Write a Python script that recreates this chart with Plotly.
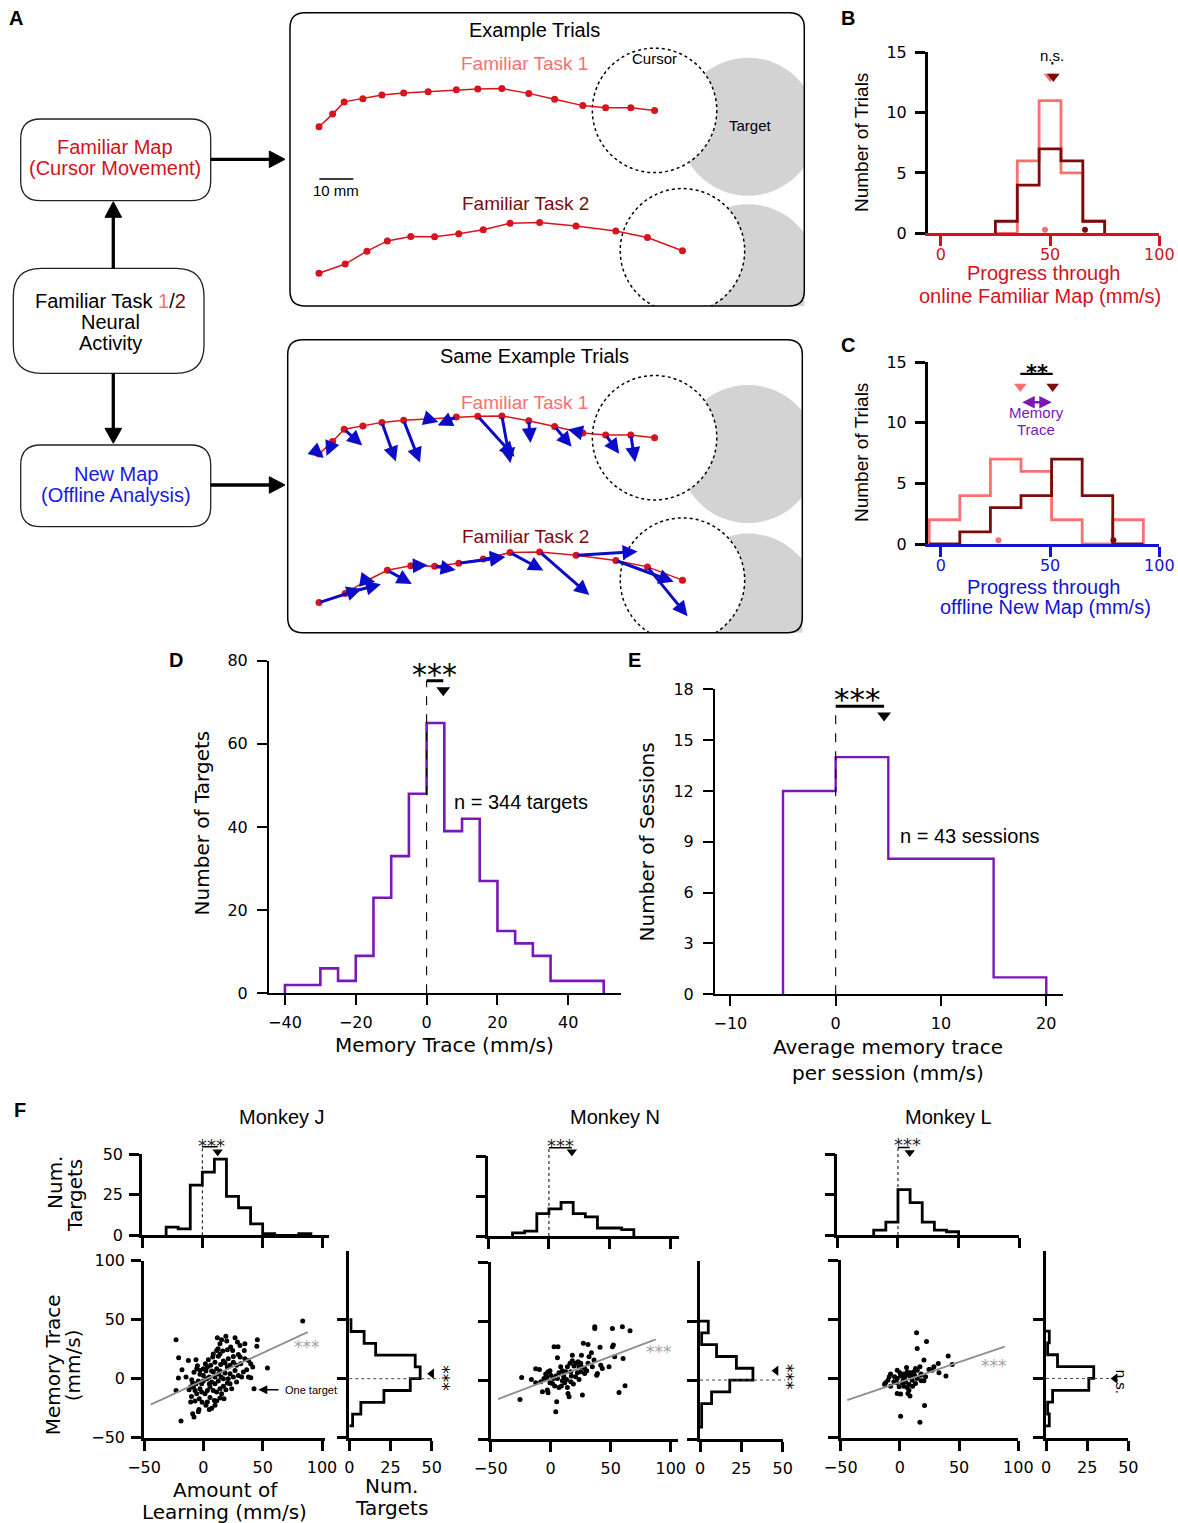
import plotly.graph_objects as go

# ============================================================ DATA
# ---- Panel A: example cursor trajectories (mm, relative to trial start)
task1_x = [0, 4.0, 7.4, 12.9, 18.5, 24.9, 32.1, 40.4, 46.7, 53.8, 61.7, 69.3, 77.6, 84.3, 91.7, 98.7]
task1_y = [0, 3.7, 7.3, 8.2, 9.3, 9.9, 10.3, 10.9, 11.1, 11.2, 9.8, 8.1, 6.2, 5.6, 5.6, 4.8]
task2_x = [0, 7.7, 14.1, 20.1, 27.0, 34.0, 41.1, 48.3, 56.2, 64.9, 75.6, 87.3, 96.6, 106.9]
task2_y = [0, 2.7, 6.5, 9.5, 10.8, 10.7, 11.6, 12.8, 14.7, 14.9, 13.9, 12.4, 10.5, 6.6]
# New-map (offline) cursor velocity at each sample (mm)
task1_u = [1.4, -1.8, 5.3, -0.8, 4.1, 4.8, 3.0, -5.5, 10.8, 2.5, 0.5, 5.0, -4.4, 4.0, 1.3]
task1_v = [-1.2, -4.3, -4.8, -0.6, -11.5, -12.4, -0.9, -2.5, -11.9, -13.9, -6.6, -6.0, 1.0, -5.5, -8.0]
task2_u = [12.5, 10.5, 2.4, 7.2, 5.0, 6.2, 13.6, 6.4, 9.8, 14.6, 18.1, 17.0, 11.8]
task2_v = [4.0, 2.7, -0.4, -4.0, 0.2, -1.1, 1.7, 0.7, -5.3, -12.7, 1.1, -6.3, -14.5]
target_x = 126.2
target_r = 20.3
cursor_r = 18.3
scalebar_mm = [0.1, 10.1]

# ---- Panel B: online familiar map progress
b_edges = [25, 35, 45, 55, 65, 75]
b_task1 = [0, 6, 11, 5, 1]
b_task2 = [1, 4, 7, 6, 1]
b_means = [50.0, 51.5]
b_examples = [47.7, 66.0]

# ---- Panel C: offline new map progress
c_edges = [-5.3, 8.7, 22.7, 36.7, 50.7, 64.7, 78.7, 92.7]
c_task1 = [2, 4, 7, 6, 2, 0, 2]
c_task2 = [0, 1, 3, 4, 7, 4, 0]
c_means = [36.4, 51.2]
c_examples = [26.4, 79.0]

# ---- Panel D: memory trace per target
d_edges = [-40, -35, -30, -25, -20, -15, -10, -5, 0, 5, 10, 15, 20, 25, 30, 35, 40, 45, 50]
d_counts = [2, 2, 6, 3, 9, 23, 33, 48, 65, 39, 42, 27, 15, 12, 9, 3, 3, 3]
d_mean = 4.7

# ---- Panel E: average memory trace per session
e_edges = [-5, 0, 5, 10, 15, 20]
e_counts = [12, 14, 8, 8, 1]
e_mean = 4.6

# ---- Panel F: amount of learning vs memory trace
J_top_edges = [-30, -20, -10, 0, 10, 20, 30, 40, 50, 60, 70, 80, 90]
J_top_counts = [5, 4, 31, 39, 47, 24, 17, 7, 1, 0, 0, 1]
J_side_edges = [-40, -30, -20, -10, 0, 10, 20, 30, 40, 50]
J_side_counts = [2, 7, 21, 37, 43, 40, 16, 9, 1]
J_means = [12.7, 4.2]
J_fit_x = [-44.4, 87.9]
J_fit_y = [-22.0, 39.5]
J_pts = [(-23, 33), (-20.8, 17.8), (-18, 7.6), (-21, 0.6), (-23, -10), (-18.8, -35.9), (-14.6, 1.4),
         (-10.7, -19.8), (-9, -29.7), (-7.9, -32.5), (-4.2, -28), (-3.7, -26), (-6.2, 16), (-5, 11),
         (-7.9, 5.4), (-9.8, -0.8), (-8.4, -7), (-10, -15), (-1, -20), (2.2, -22.6), (5, -26), (7, -25),
         (9.3, -18.4), (11.2, -19), (14, -16.4), (17.4, -17), (22.5, -4.2), (23.9, -8.5), (1.7, 12.7),
         (3.4, 9.9), (0, 8.5), (5, 1.4), (7, 6.5), (9.8, 14), (11.2, 24), (12.4, 25.4), (14, 21),
         (11.8, 34.7), (15.4, 33), (19, 35.9), (19.7, 31.9), (26.7, 34.7), (28.7, 31), (24.7, 24),
         (30.9, 28.2), (35, 29.7), (29.5, 20.6), (25.3, 18.9), (21, 17), (16.9, 15), (20.2, 9.9),
         (18.3, 4.8), (14, 6.5), (16.9, 0), (22.5, 4.2), (26.7, 7), (31.5, 12.7), (35, 17), (38, 15.5),
         (39.9, 12.7), (41.6, 9.9), (36.5, 7.6), (38, 1.4), (40, 0.8), (32.3, 1.4), (28, -2.8),
         (45.5, 33), (45, 27.4), (54, 9), (42.7, -8.5), (83.7, 48.9), (-12.6, 15.5), (-5.6, 8.5),
         (-2.8, 3.7), (-4.2, -2), (-1.4, -4.2), (-2.8, -8.5), (-7, -10), (-5.6, -12.7), (-1.4, -11.3),
         (1.4, -12.7), (3.4, -10), (5.6, -7), (8.4, -10), (11.2, -11.3), (14, -8.5), (16.9, -6.5),
         (19, -9.3), (20.2, -3.7), (0, -2), (2.8, 0), (7, -2.8), (9.8, -4.2), (12.6, -2), (15, 1.4),
         (8.4, 5.6), (11.2, 8.5), (14.6, 12.1), (18.3, 13.3), (22.5, 11.3), (25.3, 14), (28, 11.3),
         (6.2, 11.3), (4.2, 16), (7.9, 18.4), (12.6, 19), (16.3, 23.4), (20.2, 24.6), (23, 26.8),
         (8.4, 21), (14, 29.7), (0, 2.8), (2.2, 6.5), (-10.7, -7), (-12, -9.3), (-3.4, -17), (-7, -19),
         (5.6, -16), (9.8, -22.6), (3.4, -19.8), (15.4, -12.7), (25.3, 1.4), (33.7, 5.6), (29.5, 2.8),
         (-6.2, -4.2), (-9, -3.7), (9.8, 1.4), (13, 4.2), (-2.8, 7), (5, -4.2), (21, 0), (31, 18.4),
         (34.5, 24)]
J_one_target = (42.7, -8.5)

N_top_edges = [-30, -20, -10, 0, 10, 20, 30, 40, 50, 60, 70]
N_top_counts = [2, 3, 14, 17, 21, 14, 12, 5, 5, 4]
N_side_edges = [-40, -30, -20, -10, 0, 10, 20, 30, 40, 50]
N_side_counts = [1, 1, 7, 18, 32, 22, 10, 1, 5]
N_means = [18.9, 7.9]
N_fit_x = [-43.9, 87.5]
N_fit_y = [-16.1, 34.6]
N_pts = [(-24.2, 2.3), (-25.6, -16.4), (-16.1, 0.6), (-12.5, 9.6), (-9.4, 9), (-12.5, -2.3), (-8.3, -1.4),
         (-4.2, 5.1), (-3.3, 2.3), (-2.2, 7.1), (-0.6, 7.9), (-2.8, -8.5), (-2.2, -10.8), (1.4, -2.8),
         (2.2, 1.4), (4.2, 3.4), (5.6, 1.4), (6.9, -6.2), (8.9, -5.1), (9.7, -0.6), (11.1, 2.3),
         (12.5, 7.1), (13.9, 11.3), (16.1, 14.2), (18, 16.4), (19.4, 11.9), (20.8, 14.2), (22.8, 15.6),
         (23.6, 11.3), (17.2, 3.4), (16.7, -1.4), (18.9, -3.4), (13.9, -6.2), (14.4, -11.3), (15.3, -14.2),
         (5, -18.4), (4.2, -26.9), (2.8, 28.3), (6.1, 28.3), (5.6, 19), (18, 21.2), (25.6, 21.2),
         (27.2, 31.2), (31.1, 30.3), (31.9, 19.8), (28.3, 9.9), (30, 7.9), (31.1, 14.2), (25, 7.1),
         (26.4, -12.7), (23.6, 0.6), (33.9, 23.2), (36.1, 17), (36.7, 45.3), (36.7, 43.9), (41.1, 27.8),
         (38.9, 5.7), (41.7, 12.7), (43, 9.9), (48.6, 11.3), (51.4, 43.9), (51.4, 28.3), (52.2, 29.7),
         (53.3, 19.8), (59.7, 45.3), (60.3, 18.4), (66.1, 41.9), (61.9, -4.8), (56.9, -10.5), (38.3, 4.2),
         (9.7, 7.9), (-0.6, -2.3), (-5.6, 1.4), (-6.9, -9.9), (6.9, 6.2), (10.6, 4.2), (11.7, -2.3),
         (20.8, 2.8), (22.2, 6.2), (25.6, 11.3), (28.3, 5.7), (8.3, 11.3), (3.3, -5.1), (16.7, 7.1),
         (13.3, 0.6), (25, 14.2), (34.7, 11.3), (0, 4.2)]

L_top_edges = [-20, -10, 0, 10, 20, 30, 40, 50]
L_top_counts = [3, 8, 28, 20, 8, 3, 2]
L_side_edges = [-40, -30, -20, -10, 0, 10, 20, 30, 40]
L_side_counts = [2, 1, 4, 26, 29, 7, 1, 2]
L_means = [9.7, 0.0]
L_fit_x = [-44.5, 88.5]
L_fit_y = [-18.3, 26.8]
L_pts = [(14.1, 38.6), (22.5, 31.3), (14.6, 25.4), (20.3, 15.5), (40.8, 18.9), (33, 4.8), (38.9, 2),
         (44.2, 11.8), (28.7, 9.9), (32.4, 12.7), (24.5, 7.6), (27.3, 7), (20.3, -2), (18, 3.7),
         (14.6, 7), (11.8, 5.6), (9, 1.4), (5.6, 9.3), (6.2, 5.6), (3.4, 3.7), (0.6, 2), (-2.3, 0),
         (-4.5, 1.4), (-7.9, 3.7), (-10.1, -1.4), (-13, -4.8), (-7.9, -6.5), (-2.8, -3.7), (-0.6, -7),
         (2, -3.7), (4.8, -2.8), (7.6, -4.8), (10.4, -1.4), (13.2, -4.2), (14.6, 0), (-2.3, -12.7),
         (0.6, -13.2), (6.8, -12.7), (8.5, -14.9), (20.8, -22.8), (0.6, -31.8), (16.9, -36.9),
         (16.9, 9.9), (13.2, 8.5), (9, 4.8), (3.9, 0.8), (-5.1, -2.8), (-9, 1.4), (3.4, -6.5),
         (6.2, -7.6), (10.7, -6.5), (17.5, 2.8), (2.8, -1.4), (0, 4.8), (-2.3, 7), (21.7, 1.4),
         (25.4, 7.6), (18, -2), (-12.1, -3.7), (7.6, -9.9), (12.4, 2.8), (5.6, 2.8)]

# ============================================================ STYLE / HELPERS
W, H = 1178, 1523
ARIAL = "Liberation Sans, Arial, sans-serif"
DEJAVU = "DejaVu Sans, sans-serif"
RED = "#D2121E"
SALMON = "#F97070"
DARK = "#7B0C0C"
BLUE = "#1414CF"
ARROW_BLUE = "#0C0CC8"
PURPLE = "#7A17B6"
TGRAY = "#D3D3D3"
FITGRAY = "#8E8E8E"
STARGRAY = "#A3A3A3"


def X(p):
    return p / W


def Y(p):
    return 1 - p / H


fig = go.Figure()
axes_layout = {}
shapes = []
anns = []


def make_axes(n, xpx, ypx, xr, yr, xtick=None, ytick=None, xlab=True, ylab=True,
              xcol="black", visible=True, lw=2.5, tsize=16, ticklen=10, xstand=0, ystand=0):
    sx = "" if n == 1 else str(n)
    common = dict(showgrid=False, zeroline=False, showline=True, ticks="outside",
                  ticklen=ticklen, tickwidth=lw, linewidth=lw, fixedrange=True,
                  visible=visible, layer="above traces", automargin=False)
    axes_layout["xaxis" + sx] = dict(domain=[X(xpx[0]), X(xpx[1])], range=xr, anchor="y" + sx,
                                     linecolor=xcol, tickcolor=xcol, tickvals=xtick,
                                     showticklabels=xlab, ticklabelstandoff=xstand,
                                     tickfont=dict(family=DEJAVU, size=tsize, color=xcol), **common)
    axes_layout["yaxis" + sx] = dict(domain=[Y(ypx[0]), Y(ypx[1])], range=yr, anchor="x" + sx,
                                     linecolor="black", tickcolor="black", tickvals=ytick,
                                     showticklabels=ylab, ticklabelstandoff=ystand,
                                     tickfont=dict(family=DEJAVU, size=tsize, color="black"), **common)
    return ("x" + sx, "y" + sx)


def line(ax, xs, ys, color, width, dash=None):
    fig.add_trace(go.Scatter(x=xs, y=ys, xaxis=ax[0], yaxis=ax[1], mode="lines",
                             line=dict(color=color, width=width, dash=dash), hoverinfo="skip"))


def marks(ax, xs, ys, color, size, symbol="circle"):
    fig.add_trace(go.Scatter(x=xs, y=ys, xaxis=ax[0], yaxis=ax[1], mode="markers",
                             marker=dict(color=color, size=size, symbol=symbol, line=dict(width=0)),
                             cliponaxis=False, hoverinfo="skip"))


def step(edges, counts):
    xs, ys = [edges[0]], [0]
    for i, c in enumerate(counts):
        xs += [edges[i], edges[i + 1]]
        ys += [c, c]
    xs.append(edges[-1])
    ys.append(0)
    return xs, ys


def txt(x, y, s, size=20, color="black", family=ARIAL, xanchor="center", yanchor="middle",
        angle=0, ax=None):
    if ax is None:
        d = dict(x=X(x), y=Y(y), xref="paper", yref="paper")
    else:
        d = dict(x=x, y=y, xref=ax[0], yref=ax[1])
    d.update(text=s, showarrow=False, font=dict(size=size, color=color, family=family),
             xanchor=xanchor, yanchor=yanchor, textangle=angle)
    anns.append(d)


def arrow(ax, x0, y0, x1, y1, color, width, head=2, size=1.0, both=False):
    anns.append(dict(x=x1, y=y1, ax=x0, ay=y0, xref=ax[0], yref=ax[1], axref=ax[0], ayref=ax[1],
                     text="", showarrow=True, arrowhead=head, arrowsize=size, arrowwidth=width,
                     arrowcolor=color, standoff=0, startstandoff=0,
                     arrowside="end+start" if both else "end", startarrowhead=head,
                     startarrowsize=size))


def pline(x0, y0, x1, y1, w=3.3, color="black", dash=None):
    shapes.append(dict(type="line", xref="paper", yref="paper", x0=X(x0), y0=Y(y0), x1=X(x1),
                       y1=Y(y1), line=dict(color=color, width=w, dash=dash)))


def ppoly(pts, color="black"):
    path = "M " + " L ".join(f"{X(a):.5f},{Y(b):.5f}" for a, b in pts) + " Z"
    shapes.append(dict(type="path", xref="paper", yref="paper", path=path, fillcolor=color,
                       line=dict(color=color, width=1)))


def rrect(x0, y0, x1, y1, r, w=1.3, color="#222222"):
    p = (f"M {X(x0 + r)},{Y(y0)} L {X(x1 - r)},{Y(y0)} Q {X(x1)},{Y(y0)} {X(x1)},{Y(y0 + r)} "
         f"L {X(x1)},{Y(y1 - r)} Q {X(x1)},{Y(y1)} {X(x1 - r)},{Y(y1)} "
         f"L {X(x0 + r)},{Y(y1)} Q {X(x0)},{Y(y1)} {X(x0)},{Y(y1 - r)} "
         f"L {X(x0)},{Y(y0 + r)} Q {X(x0)},{Y(y0)} {X(x0 + r)},{Y(y0)} Z")
    shapes.append(dict(type="path", xref="paper", yref="paper", path=p,
                       line=dict(color=color, width=w), layer="above"))


# ============================================================ PANEL A (left flow chart)
rrect(20.7, 119, 210.7, 200.7, 20)
rrect(13.3, 268.3, 204, 373.3, 28)
rrect(20.7, 445, 210.7, 526.7, 20)
txt(115, 147.3, "Familiar Map", color=RED)
txt(115, 168.3, "(Cursor Movement)", color=RED)
txt(110.5, 300.7, f"Familiar Task <span style='color:{SALMON}'>1</span>/<span style='color:{DARK}'>2</span>")
txt(110.5, 321.7, "Neural")
txt(110.5, 343.3, "Activity")
txt(115.7, 474, "New Map", color="#1A1AE0")
txt(115.7, 495, "(Offline Analysis)", color="#1A1AE0")
# arrows
pline(113.3, 268.3, 113.3, 214)
ppoly([(113.3, 201.7), (105, 217.3), (121.6, 217.3)])
pline(113.3, 373.3, 113.3, 431)
ppoly([(113.3, 443.3), (105, 428.3), (121.6, 428.3)])
pline(210.7, 159.3, 272, 159.3)
ppoly([(285, 159.3), (269.3, 151), (269.3, 167.6)])
pline(210.7, 485, 272, 485)
ppoly([(285, 485), (269.3, 476.7), (269.3, 493.3)])

# ============================================================ PANEL A (trajectory boxes)
axA1 = make_axes(1, (290, 804.3), (306, 12.7), [-8.53, 142.74], [-52.74, 33.53], visible=False)
axA2 = make_axes(2, (287.7, 802.3), (632.7, 339.7), [-9.21, 142.15], [-52.56, 33.62], visible=False)
panels = [(axA1, -43.1, False), (axA2, -43.7, True)]
for ax, off, with_arrows in panels:
    for ty in (0, off):
        shapes.append(dict(type="circle", xref=ax[0], yref=ax[1], layer="below",
                           x0=target_x - target_r, x1=target_x + target_r,
                           y0=ty - target_r, y1=ty + target_r,
                           fillcolor=TGRAY, line=dict(width=0)))
    for cx, cy in ((task1_x[-1], task1_y[-1]), (task2_x[-1], task2_y[-1] + off)):
        shapes.append(dict(type="circle", xref=ax[0], yref=ax[1], layer="below",
                           x0=cx - cursor_r, x1=cx + cursor_r, y0=cy - cursor_r, y1=cy + cursor_r,
                           fillcolor="white", line=dict(color="black", width=1.5, dash="dot")))
    t2y = [v + off for v in task2_y]
    for xs, ys in ((task1_x, task1_y), (task2_x, t2y)):
        fig.add_trace(go.Scatter(x=xs, y=ys, xaxis=ax[0], yaxis=ax[1], mode="lines+markers",
                                 line=dict(color="#D7141E", width=1.5),
                                 marker=dict(color="#D7141E", size=7), hoverinfo="skip"))
    if with_arrows:
        for i in range(len(task1_u)):
            arrow(ax, task1_x[i], task1_y[i], task1_x[i] + task1_u[i], task1_y[i] + task1_v[i],
                  ARROW_BLUE, 3)
        for i in range(len(task2_u)):
            arrow(ax, task2_x[i], t2y[i], task2_x[i] + task2_u[i], t2y[i] + task2_v[i],
                  ARROW_BLUE, 3)
line(axA1, scalebar_mm, [-15.4, -15.4], "black", 1.5)

rrect(290, 12.7, 804.3, 306, 15, w=1.5, color="black")
rrect(287.7, 339.7, 802.3, 632.7, 15, w=1.5, color="black")
txt(534.3, 30, "Example Trials")
txt(524.7, 63.3, "Familiar Task 1", size=19, color=SALMON)
txt(654.3, 59, "Cursor", size=15)
txt(750.7, 125.7, "Target", size=15)
txt(335.7, 190.7, "10 mm", size=15)
txt(525, 204, "Familiar Task 2", size=19, color=DARK)
txt(534.3, 356, "Same Example Trials")
txt(524.3, 402.7, "Familiar Task 1", size=19, color=SALMON)
txt(525, 536, "Familiar Task 2", size=19, color=DARK)

# ============================================================ PANEL B
axB = make_axes(3, (927.7, 1159.3), (233.3, 52.3), [-6, 100], [0, 15], xtick=[0, 50, 100],
                ytick=[0, 5, 10, 15], xcol=RED, tsize=16, xstand=-5, ystand=5)
xs, ys = step(b_edges, b_task1)
line(axB, xs, ys, SALMON, 2.8)
xs, ys = step(b_edges, b_task2)
line(axB, xs, ys, DARK, 2.8)
marks(axB, [b_means[0]], [13], SALMON, 11, "triangle-down")
marks(axB, [b_means[1]], [13], DARK, 11, "triangle-down")
marks(axB, [b_examples[0]], [0.3], SALMON, 6)
marks(axB, [b_examples[1]], [0.3], DARK, 6)
line(axB, [b_means[0] + 0.6, b_means[1]], [14.1, 14.1], "black", 2.5)
txt(51, 14.75, "n.s.", size=15, ax=axB)
txt(861.7, 142.3, "Number of Trials", size=19, angle=-90)
txt(1043.3, 273.3, "Progress through", color=RED)
txt(1040, 295.7, "online Familiar Map (mm/s)", color=RED)

# ============================================================ PANEL C
axC = make_axes(4, (927.7, 1159.3), (544, 362.3), [-6, 100], [0, 15], xtick=[0, 50, 100],
                ytick=[0, 5, 10, 15], xcol=BLUE, tsize=16, xstand=-5, ystand=5)
xs, ys = step(c_edges, c_task1)
line(axC, xs, ys, SALMON, 2.8)
xs, ys = step(c_edges, c_task2)
line(axC, xs, ys, DARK, 2.8)
marks(axC, [c_means[0]], [13], SALMON, 11, "triangle-down")
marks(axC, [c_means[1]], [13], DARK, 11, "triangle-down")
marks(axC, [c_examples[0]], [0.3], SALMON, 6)
marks(axC, [c_examples[1]], [0.3], DARK, 6)
line(axC, c_means, [14.05, 14.05], "black", 2.2)
txt(sum(c_means) / 2, 14.15, "<b>**</b>", size=21, family=DEJAVU, ax=axC)
arrow(axC, c_means[0] + 0.2, 11.7, c_means[1] - 0.4, 11.7, PURPLE, 2.5, head=2, size=1.0, both=True)
txt(43.6, 10.84, "Memory", size=15, color=PURPLE, ax=axC)
txt(43.6, 9.47, "Trace", size=15, color=PURPLE, ax=axC)
txt(861.7, 452.3, "Number of Trials", size=19, angle=-90)
txt(1043.3, 586.7, "Progress through", color=BLUE)
txt(1045, 606.7, "offline New Map (mm/s)", color=BLUE)

# ============================================================ PANEL D
axD = make_axes(5, (269, 620.7), (993.3, 660.7), [-44.5, 54.8], [0, 80],
                xtick=[-40, -20, 0, 20, 40], ytick=[0, 20, 40, 60, 80], lw=2, xstand=3, ystand=6)
xs, ys = step(d_edges, d_counts)
line(axD, xs, ys, PURPLE, 2.6)
line(axD, [0, 0], [0, 75.2], "black", 1.1, "dash")
line(axD, [0, d_mean], [75.2, 75.2], "black", 3)
marks(axD, [d_mean], [72.9], "black", 12, "triangle-down")
txt(2.3, 76.6, "***", size=30, family=DEJAVU, ax=axD)
txt(451.7, 802.3, "n = 344 targets", xanchor="left")
txt(201.7, 822.7, "Number of Targets", family=DEJAVU, angle=-90)
txt(444, 1045, "Memory Trace (mm/s)", family=DEJAVU)

# ============================================================ PANEL E
axE = make_axes(6, (715, 1062.7), (994.3, 689.3), [-11.46, 21.56], [0, 18],
                xtick=[-10, 0, 10, 20], ytick=[0, 3, 6, 9, 12, 15, 18], lw=2, xstand=3, ystand=6)
xs, ys = step(e_edges, e_counts)
line(axE, xs, ys, PURPLE, 2.4)
line(axE, [0, 0], [0, 17.0], "black", 1.1, "dash")
line(axE, [0, e_mean], [17.0, 17.0], "black", 3)
marks(axE, [e_mean], [16.45], "black", 12, "triangle-down")
txt(2.1, 17.4, "***", size=31, family=DEJAVU, ax=axE)
txt(898.3, 835.7, "n = 43 sessions", xanchor="left")
txt(646.7, 841.7, "Number of Sessions", family=DEJAVU, angle=-90)
txt(887.7, 1047.3, "Average memory trace", family=DEJAVU)
txt(888.3, 1072.7, "per session (mm/s)", family=DEJAVU)

# ============================================================ PANEL F
monkeys = [
    dict(name="Monkey J", title_x=282, pts=J_pts, te=J_top_edges, tc=J_top_counts, se=J_side_edges,
         sc=J_side_counts, means=J_means, fx=J_fit_x, fy=J_fit_y,
         top_x=(142, 329), top_y=(1235.3, 1154.3), top_xr=[-50, 105],
         sc_x=(144, 325), sc_y=(1437.7, 1260.7), sc_xr=[-50, 102.5],
         side_x=(349.3, 431.7), side_y=(1437.7, 1250.7), side_yr=[-50, 108.5],
         tri_y=51.6, bar_y=54.7, star=(7.2, 55.2), side_tri=(50, 4.2), side_dot=55,
         side_txt=(443, 1378.3, "***"), gstar=(87, 26.6), labels=True),
    dict(name="Monkey N", title_x=615, pts=N_pts, te=N_top_edges, tc=N_top_counts, se=N_side_edges,
         sc=N_side_counts, means=N_means, fx=N_fit_x, fy=N_fit_y,
         top_x=(488.3, 679.3), top_y=(1236, 1156), top_xr=[-50, 107.5],
         sc_x=(490.7, 678.3), sc_y=(1439, 1262.3), sc_xr=[-50, 106.3],
         side_x=(700, 782.7), side_y=(1439, 1261), side_yr=[-50, 101],
         tri_y=52.7, bar_y=55.2, star=(9.6, 56.8), side_tri=(46, 7.9), side_dot=51.4,
         side_txt=(787, 1377, "***"), gstar=(90.3, 23.7), labels=False),
    dict(name="Monkey L", title_x=948, pts=L_pts, te=L_top_edges, tc=L_top_counts, se=L_side_edges,
         sc=L_side_counts, means=L_means, fx=L_fit_x, fy=L_fit_y,
         top_x=(837.3, 1019.3), top_y=(1235, 1154), top_xr=[-50, 100],
         sc_x=(840.7, 1018.3), sc_y=(1437.7, 1260), sc_xr=[-50, 100],
         side_x=(1046, 1128.3), side_y=(1437.7, 1250.7), side_yr=[-50, 107.8],
         tri_y=51, bar_y=54, star=(8, 55.6), side_tri=(42, 0), side_dot=42,
         side_txt=(1121, 1381.7, "n.s."), gstar=(79.4, 10.9), labels=False),
]

n_ax = 7
for m in monkeys:
    lab = m["labels"]
    top = make_axes(n_ax, m["top_x"], m["top_y"], m["top_xr"], [0, 50], xtick=[-50, 0, 50, 100],
                    ytick=[0, 25, 50], xlab=False, ylab=lab, lw=2.6, ystand=3)
    sca = make_axes(n_ax + 1, m["sc_x"], m["sc_y"], m["sc_xr"], [-50, 100],
                    xtick=[-50, 0, 50, 100], ytick=[-50, 0, 50, 100], ylab=lab, lw=2.6,
                    xstand=3, ystand=3)
    side = make_axes(n_ax + 2, m["side_x"], m["side_y"], [0, 50], m["side_yr"],
                     xtick=[0, 25, 50], ytick=[-50, 0, 50], ylab=False, lw=2.6, xstand=3)
    # overlay axes (same scale, larger extent) for annotation marks above the histograms
    ty_scale = (m["top_y"][0] - m["top_y"][1]) / 50.0
    ovt = make_axes(n_ax + 3, m["top_x"], (m["top_y"][0], 1118), m["top_xr"],
                    [0, (m["top_y"][0] - 1118) / ty_scale], visible=False)
    sx_scale = (m["side_x"][1] - m["side_x"][0]) / 50.0
    ovs = make_axes(n_ax + 4, (m["side_x"][0], m["side_x"][0] + 120), m["side_y"],
                    [0, 120 / sx_scale], m["side_yr"], visible=False)
    n_ax += 5

    xs, ys = step(m["te"], m["tc"])
    line(top, xs, ys, "black", 2.8)
    line(ovt, [0, 0], [0, m["bar_y"]], "black", 1, "dot")
    line(ovt, [0, m["means"][0]], [m["bar_y"], m["bar_y"]], "black", 1.5)
    marks(ovt, [m["means"][0]], [m["tri_y"]], "black", 9, "triangle-down")
    txt(m["star"][0], m["star"][1], "***", size=18, color="#222222", family=DEJAVU, ax=ovt)

    marks(sca, [p[0] for p in m["pts"]], [p[1] for p in m["pts"]], "black", 5)
    line(sca, m["fx"], m["fy"], FITGRAY, 1.8)
    txt(m["gstar"][0], m["gstar"][1], "***", size=17, color=STARGRAY, family=DEJAVU, ax=sca)

    ys, xs = step(m["se"], m["sc"])
    line(side, xs, ys, "black", 2.8)
    line(ovs, [0, m["side_dot"]], [0, 0], "#444444", 1, "dot")
    marks(ovs, [m["side_tri"][0]], [m["side_tri"][1]], "black", 9, "triangle-left")
    st = m["side_txt"]
    txt(st[0], st[1], st[2], size=17 if st[2] == "***" else 15,
        family=DEJAVU if st[2] == "***" else ARIAL, angle=90)

    txt(m["title_x"], 1117, m["name"])
    if m["name"] == "Monkey J":
        arrow(sca, 64.6, J_one_target[1] - 0.8, J_one_target[0] + 3.6, J_one_target[1] - 0.8,
              "black", 1.5, head=2, size=1.2)
        txt(67.1, J_one_target[1] - 0.8, "One target", size=11, xanchor="left", ax=sca)

txt(55, 1183, "Num.", family=DEJAVU, angle=-90)
txt(75, 1196, "Targets", family=DEJAVU, angle=-90)
txt(53.3, 1365, "Memory Trace", family=DEJAVU, angle=-90)
txt(73.3, 1365, "(mm/s)", family=DEJAVU, angle=-90)
txt(225, 1490, "Amount of", family=DEJAVU)
txt(224, 1511.7, "Learning (mm/s)", family=DEJAVU)
txt(391.7, 1486, "Num.", family=DEJAVU)
txt(391.7, 1508, "Targets", family=DEJAVU)

# ============================================================ panel letters
for letter, lx, ly in (("A", 16, 18), ("B", 848, 18), ("C", 848, 345), ("D", 176, 660),
                       ("E", 634, 660), ("F", 20, 1110)):
    txt(lx, ly, f"<b>{letter}</b>", size=20)

fig.update_layout(template="none", width=W, height=H, autosize=False,
                  margin=dict(l=0, r=0, t=0, b=0, pad=0), paper_bgcolor="white",
                  plot_bgcolor="rgba(0,0,0,0)", showlegend=False, hovermode=False,
                  shapes=shapes, annotations=anns, **axes_layout)
fig.write_html("out.html")
